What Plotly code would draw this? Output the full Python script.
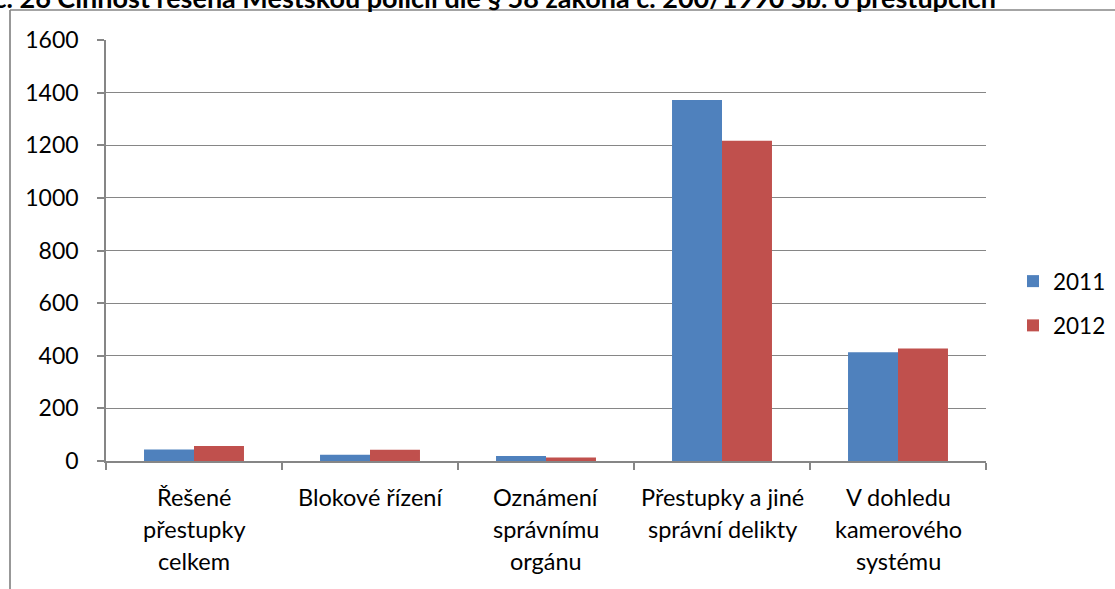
import plotly.graph_objects as go

# Data
categories = [
    "Řešené přestupky celkem",
    "Blokové řízení",
    "Oznámení správnímu orgánu",
    "Přestupky a jiné správní delikty",
    "V dohledu kamerového systému",
]
category_lines = [
    ["Řešené", "přestupky", "celkem"],
    ["Blokové řízení"],
    ["Oznámení", "správnímu", "orgánu"],
    ["Přestupky a jiné", "správní delikty"],
    ["V dohledu", "kamerového", "systému"],
]
values_2011 = [44, 24, 19, 1372, 413]
values_2012 = [57, 43, 13, 1217, 428]
y_ticks = [0, 200, 400, 600, 800, 1000, 1200, 1400, 1600]
title_text = "Graf č. 26 Činnost řešená Městskou policií dle § 58 zákona č. 200/1990 Sb. o přestupcích"

W, H = 1115, 589
PL, PR, PT, PB = 106, 986, 40, 461  # plot area in pixels


def px_x(p):
    return (p - PL) / (PR - PL)


def px_y(p):
    return (PB - p) / (PB - PT)


FONT = "Lato"
GRAY = "#868686"
FS = 23.5

fig = go.Figure()
fig.add_trace(go.Bar(x=categories, y=values_2011, name="2011", marker_color="#4F81BD",
                     marker_line_width=0, legendgroup="a"))
fig.add_trace(go.Bar(x=categories, y=values_2012, name="2012", marker_color="#C0504D",
                     marker_line_width=0, legendgroup="b"))

fig.update_layout(
    width=W, height=H,
    margin=dict(l=PL, r=W - PR, t=PT, b=H - PB, pad=0, autoexpand=False),
    paper_bgcolor="white", plot_bgcolor="white",
    barmode="group", bargap=0.432, bargroupgap=0,
    font=dict(family=FONT, size=FS, color="#000000"),
    showlegend=True,
    legend=dict(x=px_x(1013), y=px_y(260), xanchor="left", yanchor="top",
                font=dict(size=22.5), tracegroupgap=12, itemwidth=30,
                bgcolor="rgba(0,0,0,0)", borderwidth=0),
    xaxis=dict(type="category", showticklabels=False, showline=True, linecolor=GRAY,
               linewidth=1.5, ticks="outside", tickson="boundaries", ticklen=7,
               tickcolor=GRAY, tickwidth=1.5, showgrid=False, fixedrange=True),
    yaxis=dict(range=[0, 1600], tickvals=y_ticks, showline=True, linecolor=GRAY,
               linewidth=1.5, ticks="outside", ticklen=7, tickcolor=GRAY, tickwidth=1.5,
               gridcolor=GRAY, gridwidth=1.3, zeroline=False, ticklabelstandoff=14,
               tickfont=dict(size=23, color="#000000")),
)

# Category labels, one line at a time
for cat, lines in zip(categories, category_lines):
    for j, line in enumerate(lines):
        fig.add_annotation(x=cat, xref="x", y=px_y(497 + 32 * j), yref="paper",
                           text=line, showarrow=False, xanchor="center", yanchor="middle",
                           font=dict(family=FONT, size=FS, color="#000000"))

# Title (partly above the page top)
fig.add_annotation(x=px_x(998), y=px_y(-3), xref="paper", yref="paper", text=f"<b>{title_text}</b>",
                   showarrow=False, xanchor="right", yanchor="middle",
                   font=dict(family=FONT, size=27, color="#000000"))

# Chart frame
fig.add_shape(type="line", xref="paper", yref="paper", x0=px_x(10), x1=px_x(10),
              y0=px_y(10), y1=px_y(600), line=dict(color=GRAY, width=1.7))
fig.add_shape(type="line", xref="paper", yref="paper", x0=px_x(10), x1=px_x(1130),
              y0=px_y(10), y1=px_y(10), line=dict(color=GRAY, width=1.7))

fig.write_html("out.html")
